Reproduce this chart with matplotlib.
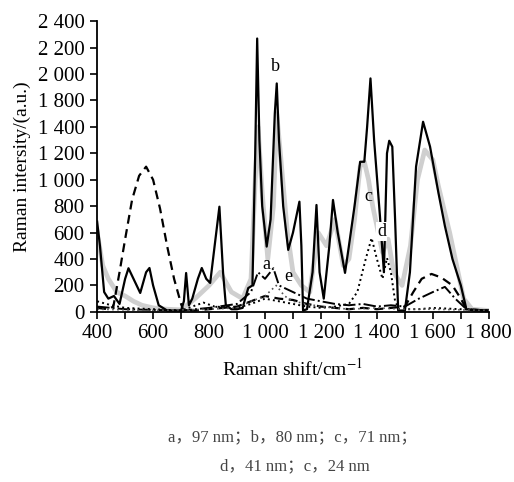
import numpy as np
import matplotlib.pyplot as plt

plt.rcParams['font.family'] = ['Liberation Serif', 'Noto Sans CJK SC']
plt.rcParams['mathtext.fontset'] = 'stix'

# curve b (solid black, sharp peaks)
b_x = [400, 410, 425, 440, 460, 480, 500, 512, 530, 554, 575, 587, 600, 620, 650,
       700, 710, 718, 728, 740, 760, 774, 790, 804, 820, 837, 850, 860, 880, 900,
       920, 940, 955, 965, 972, 980, 990, 1006, 1020, 1035, 1042, 1050, 1065, 1083,
       1100, 1123, 1130, 1136, 1150, 1170, 1184, 1195, 1210, 1230, 1243, 1260, 1286,
       1300, 1320, 1340, 1355, 1365, 1377, 1390, 1411, 1425, 1436, 1444, 1455, 1465,
       1476, 1500, 1518, 1540, 1565, 1590, 1620, 1643, 1670, 1700, 1720, 1750, 1800]
b_y = [683, 500, 150, 100, 120, 60, 250, 330, 250, 143, 300, 332, 200, 50, 10,
       10, 80, 294, 50, 100, 250, 332, 250, 219, 500, 796, 300, 50, 20, 20,
       30, 180, 200, 1200, 2069, 1300, 800, 494, 700, 1500, 1729, 1300, 800, 469,
       600, 834, 500, 10, 20, 300, 809, 300, 100, 500, 847, 600, 295,
       500, 800, 1136, 1136, 1400, 1767, 1300, 720, 300, 1200, 1295, 1250, 700,
       10, 10, 300, 1100, 1439, 1250, 900, 650, 400, 200, 20, 10, 10]

# curve c (thick grey)
c_x = [400, 420, 440, 470, 500, 530, 560, 600, 650, 700, 750, 800, 840, 880, 920,
       950, 965, 975, 990, 1010, 1030, 1042, 1055, 1080, 1100, 1130, 1160, 1190,
       1220, 1250, 1280, 1300, 1320, 1340, 1355, 1370, 1385, 1400, 1420, 1440, 1460,
       1490, 1520, 1545, 1571, 1600, 1620, 1643, 1660, 1690, 1710, 1740, 1800]
c_y = [600, 350, 250, 150, 120, 80, 50, 30, 20, 15, 100, 200, 300, 150, 100,
       250, 1000, 1400, 900, 400, 800, 1500, 1200, 600, 300, 200, 150, 600,
       500, 700, 350, 400, 700, 1100, 1136, 1000, 800, 650, 450, 550, 300,
       200, 500, 1000, 1225, 1150, 950, 748, 600, 300, 100, 20, 10]

# dashed black curve
dash_x = [400, 440, 458, 480, 500, 525, 550, 575, 600, 625, 650, 675, 700, 708,
          750, 800, 850, 900, 950, 1000, 1050, 1100, 1150, 1200, 1250, 1300, 1350,
          1400, 1450, 1500, 1530, 1560, 1595, 1630, 1670, 1700, 1720, 1800]
dash_y = [30, 20, 40, 300, 550, 850, 1030, 1099, 1000, 780, 500, 250, 60, 10,
          10, 20, 30, 40, 80, 120, 100, 90, 60, 40, 30, 20, 30,
          20, 30, 40, 150, 250, 287, 260, 200, 100, 20, 10]

# curve d (dotted)
d_x = [400, 450, 500, 600, 700, 780, 820, 900, 950, 1000, 1050, 1100, 1150, 1200,
       1250, 1300, 1330, 1360, 1381, 1400, 1420, 1436, 1450, 1465, 1480, 1550,
       1600, 1700, 1800]
d_y = [80, 50, 30, 20, 10, 70, 40, 30, 60, 100, 80, 60, 40, 30,
       40, 60, 150, 400, 559, 400, 250, 408, 300, 80, 20, 20,
       30, 20, 10]

# curve a (dash-dot)
a_x = [400, 500, 600, 700, 800, 900, 950, 975, 1000, 1030, 1050, 1100, 1150, 1200,
       1250, 1300, 1350, 1400, 1450, 1500, 1550, 1600, 1643, 1680, 1720, 1800]
a_y = [40, 20, 15, 10, 30, 60, 150, 300, 250, 330, 200, 150, 100, 80,
       60, 50, 60, 40, 50, 40, 100, 150, 189, 100, 20, 10]

# curve e (fine dotted)
e_x = [400, 600, 800, 900, 950, 1000, 1040, 1070, 1100, 1200, 1300, 1400, 1500,
       1600, 1800]
e_y = [20, 10, 20, 30, 80, 120, 200, 120, 80, 40, 20, 30, 20, 20, 10]

ytick_pos = np.arange(0, 2201, 200)
ytick_labels = ['0', '200', '400', '600', '800', '1 000', '1 200', '1 400',
                '1 800', '2 000', '2 200', '2 400']
xtick_pos = np.arange(400, 1801, 200)
xtick_labels = ['400', '600', '800', '1 000', '1 200', '1 400', '1 600', '1 800']

fig = plt.figure(figsize=(5.14, 4.82), dpi=100)
ax = fig.add_axes([0.189, 0.353, 0.762, 0.603])

ax.plot(c_x, c_y, color='#cfcfcf', lw=3.4)
ax.plot(b_x, b_y, color='black', lw=1.6)
ax.plot(dash_x, dash_y, color='black', lw=1.6, ls=(0, (4, 2.5)))
ax.plot(a_x, a_y, color='black', lw=1.4, ls='-.')
ax.plot(d_x, d_y, color='black', lw=1.4, ls=':')
ax.plot(e_x, e_y, color='#555555', lw=1.2, ls=(0, (1, 2)))

ax.text(1038, 1854, 'b', fontsize=13, ha='center', va='center')
ax.text(1369, 872, 'c', fontsize=13, ha='center', va='center')
ax.text(1417, 607, 'd', fontsize=13, ha='center', va='center',
        bbox=dict(facecolor='white', edgecolor='none', pad=0.5))
ax.text(1006, 355, 'a', fontsize=13, ha='center', va='center')
ax.text(1083, 267, 'e', fontsize=13, ha='center', va='center')

ax.set_xlim(400, 1800)
ax.set_ylim(0, 2200)
ax.set_yticks(ytick_pos)
ax.set_yticklabels(ytick_labels)
ax.set_xticks(xtick_pos)
ax.set_xticklabels(xtick_labels)
ax.set_xticks(np.arange(500, 1800, 200), minor=True)
ax.tick_params(axis='both', which='both', direction='out', length=5, width=1.2,
               labelsize=15, pad=4)
ax.spines['top'].set_visible(False)
ax.spines['right'].set_visible(False)
ax.spines['left'].set_linewidth(1.3)
ax.spines['bottom'].set_linewidth(1.3)

ax.set_xlabel(r'Raman shift/cm$^{-1}$', fontsize=14, labelpad=10)
ax.set_ylabel('Raman intersity/(a.u.)', fontsize=14, labelpad=5)

fig.text(0.57, 1 - 437 / 482, 'a，97 nm；b，80 nm；c，71 nm；', fontsize=12,
         ha='center', va='center', color='#444444')
fig.text(0.573, 1 - 466 / 482, 'd，41 nm；c，24 nm', fontsize=12,
         ha='center', va='center', color='#444444')

fig.savefig('out.png', dpi=100)
